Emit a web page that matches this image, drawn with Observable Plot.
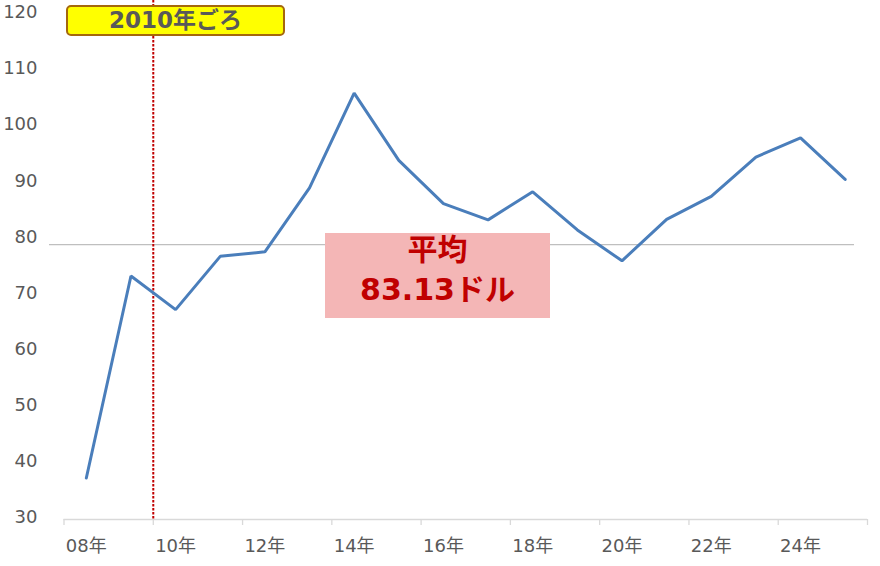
<!DOCTYPE html>
<html>
<head>
<meta charset="utf-8">
<script src="https://cdn.jsdelivr.net/npm/d3@7"></script>
<script src="https://cdn.jsdelivr.net/npm/@observablehq/plot@0.6"></script>
<style>
  html, body { margin: 0; padding: 0; background: #fff; }
  #wrap { position: relative; width: 880px; height: 566px; font-family: "DejaVu Sans", "Noto Sans CJK JP", sans-serif; }
  #wrap svg { position: absolute; left: 0; top: 0; }
  .tag {
    position: absolute; left: 66px; top: 5px; width: 219px; height: 31px; box-sizing: border-box;
    background: #FFFF00; border: 2.5px solid #A5680C; border-radius: 5px;
    color: #595959; font-weight: bold; font-size: 23px; line-height: 26px; text-align: center;
  }
  .avg {
    position: absolute; left: 325px; top: 233px; width: 225px; height: 85px;
    background: #F4B6B6; color: #C00000; font-weight: bold; font-size: 30px; text-align: center;
  }
  .avg div { line-height: 40px; }
</style>
</head>
<body>
<div id="wrap"></div>
<script>
// ---- data ----
const years = [2008, 2009, 2010, 2011, 2012, 2013, 2014, 2015, 2016, 2017, 2018, 2019, 2020, 2021, 2022, 2023, 2024, 2025];
const values = [37.4, 73.4, 67.4, 76.9, 77.7, 89.1, 106.0, 94.0, 86.3, 83.4, 88.4, 81.6, 76.1, 83.5, 87.6, 94.6, 98.0, 90.6];
const xTickYears = [2008, 2010, 2012, 2014, 2016, 2018, 2020, 2022, 2024];
const xTickLabels = ["08年", "10年", "12年", "14年", "16年", "18年", "20年", "22年", "24年"];
const yTicks = [30, 40, 50, 60, 70, 80, 90, 100, 110, 120];
const avgLineValue = [79];
const markerYear = [2009.5];
const markerLabel = "2010年ごろ";
const avgLabel = ["平均", "83.13ドル"];

const data = years.map((y, i) => ({year: y, value: values[i]}));
const boundaries = years.map(y => y - 0.5).concat([years[years.length - 1] + 0.5]).filter((d, i) => i % 2 === 0);
const labelOf = new Map(xTickYears.map((y, i) => [y, xTickLabels[i]]));

const chart = Plot.plot({
  width: 880,
  height: 566,
  marginLeft: 63.5,
  marginRight: 13,
  marginTop: 14,
  marginBottom: 47,
  style: {fontFamily: "'DejaVu Sans', 'Noto Sans CJK JP', sans-serif", background: "transparent"},
  x: {domain: [years[0] - 0.5, years[years.length - 1] + 0.5]},
  y: {domain: [30, 120]},
  marks: [
    Plot.axisY(yTicks, {tickSize: 0, tickPadding: 26.5, fontSize: 18, fill: "#595959", dy: -2, label: null}),
    Plot.ruleY(avgLineValue, {stroke: "#BFBFBF", strokeWidth: 1.3, insetLeft: -14.5, insetRight: 13}),
    Plot.ruleY([30], {stroke: "#D9D9D9", strokeWidth: 1.3}),
    Plot.axisX(boundaries, {tickSize: 6, stroke: "#D9D9D9", strokeWidth: 1.3, tickFormat: () => "", label: null}),
    Plot.axisX(xTickYears, {tickSize: 0, tickPadding: 20, fontSize: 18, fill: "#595959", tickFormat: d => labelOf.get(d), label: null}),
    Plot.ruleX(markerYear, {stroke: "#C00000", strokeWidth: 2, strokeDasharray: "2.4,1.6", insetTop: -22}),
    Plot.line(data, {x: "year", y: "value", stroke: "#4A7EBB", strokeWidth: 3, strokeLinejoin: "miter"})
  ]
});

const wrap = document.getElementById("wrap");
wrap.appendChild(chart);

const tag = document.createElement("div");
tag.className = "tag";
tag.textContent = markerLabel;
wrap.appendChild(tag);

const avg = document.createElement("div");
avg.className = "avg";
avgLabel.forEach((t, i) => {
  const d = document.createElement("div");
  d.textContent = t;
  if (i === 0) d.style.marginTop = "-3px";
  avg.appendChild(d);
});
wrap.appendChild(avg);
</script>
</body>
</html>
